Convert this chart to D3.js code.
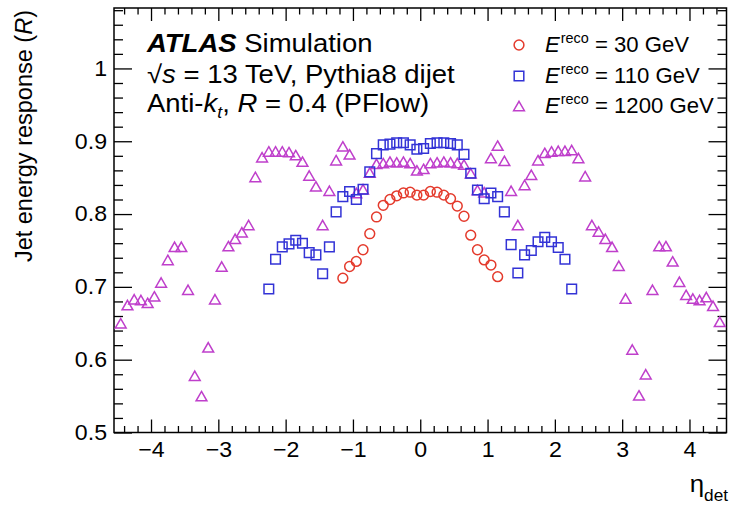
<!DOCTYPE html>
<html><head><meta charset="utf-8">
<script src="https://cdn.jsdelivr.net/npm/d3@7/dist/d3.min.js"></script>
<style>
body{margin:0;background:#fff;}
svg{display:block;font-family:"Liberation Sans",Arial,Helvetica,sans-serif;}
</style></head>
<body>
<svg id="c" width="731" height="509"></svg>
<script>
// ---------- data ----------
const etaPurple = [-4.45,-4.35,-4.25,-4.15,-4.05,-3.95,-3.85,-3.75,-3.65,-3.55,-3.45,-3.35,-3.25,-3.15,-3.05,-2.95,-2.85,-2.75,-2.65,-2.55,-2.45,-2.35,-2.25,-2.15,-2.05,-1.95,-1.85,-1.75,-1.65,-1.55,-1.45,-1.35,-1.25,-1.15,-1.05,-0.95,-0.85,-0.75,-0.65,-0.55,-0.45,-0.35,-0.25,-0.15,-0.05,
  0.05,0.15,0.25,0.35,0.45,0.55,0.65,0.75,0.85,0.95,1.05,1.15,1.25,1.35,1.45,1.55,1.65,1.75,1.85,1.95,2.05,2.15,2.25,2.35,2.45,2.55,2.65,2.75,2.85,2.95,3.05,3.15,3.25,3.35,3.45,3.55,3.65,3.75,3.85,3.95,4.05,4.15,4.25,4.35,4.45];
const resp1200 = [0.650,0.675,0.683,0.682,0.678,0.687,0.706,0.737,0.755,0.755,0.696,0.578,0.550,0.617,0.683,0.728,0.756,0.766,0.775,0.785,0.851,0.878,0.886,0.886,0.886,0.885,0.881,0.872,0.853,0.838,0.785,0.832,0.874,0.893,0.882,0.829,0.834,0.857,0.869,0.870,0.872,0.871,0.872,0.870,0.860,
  0.862,0.870,0.871,0.872,0.871,0.870,0.868,0.856,0.833,0.830,0.877,0.894,0.873,0.832,0.785,0.840,0.854,0.874,0.884,0.886,0.887,0.887,0.888,0.877,0.852,0.785,0.776,0.766,0.755,0.729,0.684,0.614,0.551,0.580,0.696,0.756,0.756,0.735,0.707,0.689,0.684,0.682,0.686,0.674,0.652];

const etaBlue = [-2.25,-2.15,-2.05,-1.95,-1.85,-1.75,-1.65,-1.55,-1.45,-1.35,-1.25,-1.15,-1.05,-0.95,-0.85,-0.75,-0.65,-0.55,-0.45,-0.35,-0.25,-0.15,-0.05,
  0.05,0.15,0.25,0.35,0.45,0.55,0.65,0.75,0.85,0.95,1.05,1.15,1.25,1.35,1.45,1.55,1.65,1.75,1.85,1.95,2.05,2.15,2.25];
const resp110 = [0.697,0.738,0.755,0.759,0.764,0.760,0.747,0.744,0.718,0.755,0.803,0.824,0.831,0.820,0.834,0.858,0.883,0.895,0.896,0.898,0.898,0.895,0.889,
  0.890,0.897,0.898,0.898,0.897,0.895,0.882,0.856,0.833,0.821,0.829,0.824,0.803,0.758,0.719,0.744,0.750,0.762,0.768,0.762,0.754,0.738,0.697];

const etaRed = [-1.15,-1.05,-0.95,-0.85,-0.75,-0.65,-0.55,-0.45,-0.35,-0.25,-0.15,-0.05,0.05,0.15,0.25,0.35,0.45,0.55,0.65,0.75,0.85,0.95,1.05,1.15];
const resp30 = [0.712,0.728,0.735,0.751,0.773,0.796,0.812,0.820,0.825,0.829,0.830,0.826,0.826,0.831,0.830,0.826,0.821,0.811,0.797,0.771,0.751,0.737,0.730,0.714];

const xTicks = [-4,-3,-2,-1,0,1,2,3,4];
const yTicks = [0.5,0.6,0.7,0.8,0.9,1.0];
const legendLabels = ["30 GeV","110 GeV","1200 GeV"];

// ---------- setup ----------
const svg = d3.select("#c");
const L=114, R=726.5, T=8, B=432.5;
const x = d3.scaleLinear().domain([-4.55,4.55]).range([L,R]);
const y = d3.scaleLinear().domain([0.5,1.083]).range([B,T]);
const SX = 1.077;

const xMinor = d3.range(-44,45,2).map(v=>v/10).filter(v=>Math.abs(v-Math.round(v))>1e-6);
const yMinor = d3.range(50,109,2).map(v=>v/100).filter(v=>Math.abs(v*10-Math.round(v*10))>1e-6);

function ticksOnly(g){ g.select(".domain").remove(); g.selectAll("text").remove(); g.selectAll("line").attr("stroke","#000").attr("stroke-width",1.3); }

// bottom
svg.append("g").attr("transform",`translate(0,${B})`)
  .call(d3.axisBottom(x).tickValues(xMinor).tickSize(-6.5).tickFormat("")).call(ticksOnly);
const gxb = svg.append("g").attr("transform",`translate(0,${B})`)
  .call(d3.axisBottom(x).tickValues(xTicks).tickSize(-13).tickPadding(9).tickFormat(d3.format("d")));
gxb.select(".domain").remove();
gxb.selectAll("line").attr("stroke","#000").attr("stroke-width",1.3);
gxb.selectAll("text").attr("font-size",21.5).attr("fill","#000").attr("font-family","Liberation Sans, Arial, sans-serif")
  .attr("transform",`scale(${SX},1)`);
// top
svg.append("g").attr("transform",`translate(0,${T})`)
  .call(d3.axisTop(x).tickValues(xMinor).tickSize(-6.5).tickFormat("")).call(ticksOnly);
svg.append("g").attr("transform",`translate(0,${T})`)
  .call(d3.axisTop(x).tickValues(xTicks).tickSize(-13).tickFormat("")).call(ticksOnly);
// left
svg.append("g").attr("transform",`translate(${L},0)`)
  .call(d3.axisLeft(y).tickValues(yMinor).tickSize(-9).tickFormat("")).call(ticksOnly);
const gyl = svg.append("g").attr("transform",`translate(${L},0)`)
  .call(d3.axisLeft(y).tickValues(yTicks).tickSize(-18).tickPadding(6.5).tickFormat(d=>d===1?"1":d3.format(".1f")(d)));
gyl.select(".domain").remove();
gyl.selectAll("line").attr("stroke","#000").attr("stroke-width",1.3);
gyl.selectAll("text").attr("font-size",21.5).attr("fill","#000").attr("font-family","Liberation Sans, Arial, sans-serif")
  .attr("transform",`scale(${SX},1)`);
// right
svg.append("g").attr("transform",`translate(${R},0)`)
  .call(d3.axisRight(y).tickValues(yMinor).tickSize(-9).tickFormat("")).call(ticksOnly);
svg.append("g").attr("transform",`translate(${R},0)`)
  .call(d3.axisRight(y).tickValues(yTicks).tickSize(-18).tickFormat("")).call(ticksOnly);

// frame
svg.append("rect").attr("x",L).attr("y",T).attr("width",R-L).attr("height",B-T)
  .attr("fill","none").attr("stroke","#000").attr("stroke-width",1.5);

// ---------- markers ----------
const triType = {draw(ctx,size){ const w=10.8*size/100, h=9.4*size/100; ctx.moveTo(0,-h/2); ctx.lineTo(w/2,h/2); ctx.lineTo(-w/2,h/2); ctx.closePath(); }};
const series = [
  {eta:etaPurple, r:resp1200, color:"#bf3fcb", sym:d3.symbol().type(triType).size(100)},
  {eta:etaBlue, r:resp110, color:"#3333d6", sym:d3.symbol().type(d3.symbolSquare).size(9.6*9.6)},
  {eta:etaRed, r:resp30, color:"#e43a2c", sym:d3.symbol().type(d3.symbolCircle).size(Math.PI*4.9*4.9)}
];
series.forEach(s=>{
  svg.append("g").selectAll("path").data(s.eta.map((e,i)=>[e,s.r[i]])).join("path")
    .attr("d",s.sym()).attr("transform",d=>`translate(${x(d[0])},${y(d[1])})`)
    .attr("fill","none").attr("stroke",s.color).attr("stroke-width",1.5);
});

// ---------- legend ----------
const legY = [45,76,106];
const legSeries = [series[2],series[1],series[0]];
legSeries.forEach((s,i)=>{
  svg.append("path").attr("d",s.sym()).attr("transform",`translate(519,${legY[i]})`)
    .attr("fill","none").attr("stroke",s.color).attr("stroke-width",1.5);
  const t = svg.append("text").attr("transform",`translate(545,${legY[i]+6.7}) scale(1.03,1)`).attr("font-size",21.5);
  t.append("tspan").attr("font-style","italic").text("E");
  t.append("tspan").attr("font-size",14).attr("dy",-9).attr("dx",1).text("reco");
  t.append("tspan").attr("dy",9).text(" = "+legendLabels[i]);
});

// ---------- ATLAS text ----------
const fs = 25;
const SXT = 1.1;
const t1 = svg.append("text").attr("transform",`translate(147,51.7) scale(${SXT},1)`).attr("font-size",fs);
t1.append("tspan").attr("font-weight","bold").attr("font-style","italic").text("ATLAS");
t1.append("tspan").text(" Simulation");
const t2 = svg.append("text").attr("transform",`translate(147,82.7) scale(${SXT},1)`).attr("font-size",fs);
t2.append("tspan").text("√");
t2.append("tspan").attr("font-style","italic").text("s");
t2.append("tspan").text(" = 13 TeV, Pythia8 dijet");
const t3 = svg.append("text").attr("transform",`translate(147,111.7) scale(${SXT},1)`).attr("font-size",fs);
t3.append("tspan").text("Anti-");
t3.append("tspan").attr("font-style","italic").text("k");
t3.append("tspan").attr("font-style","italic").attr("font-size",16).attr("dy",6).text("t");
t3.append("tspan").attr("dy",-6).text(", ");
t3.append("tspan").attr("font-style","italic").text("R");
t3.append("tspan").text(" = 0.4 (PFlow)");

// ---------- axis titles ----------
const yt = svg.append("text").attr("transform","translate(32,10) rotate(-90)").attr("text-anchor","end").attr("font-size",23.5);
yt.append("tspan").text("Jet energy response (");
yt.append("tspan").attr("font-style","italic").text("R");
yt.append("tspan").text(")");

const xt = svg.append("text").attr("transform",`translate(728,492) scale(${SX},1)`).attr("text-anchor","end").attr("font-size",24);
xt.append("tspan").text("η");
xt.append("tspan").attr("font-size",16).attr("dy",9).text("det");
</script>
</body></html>
